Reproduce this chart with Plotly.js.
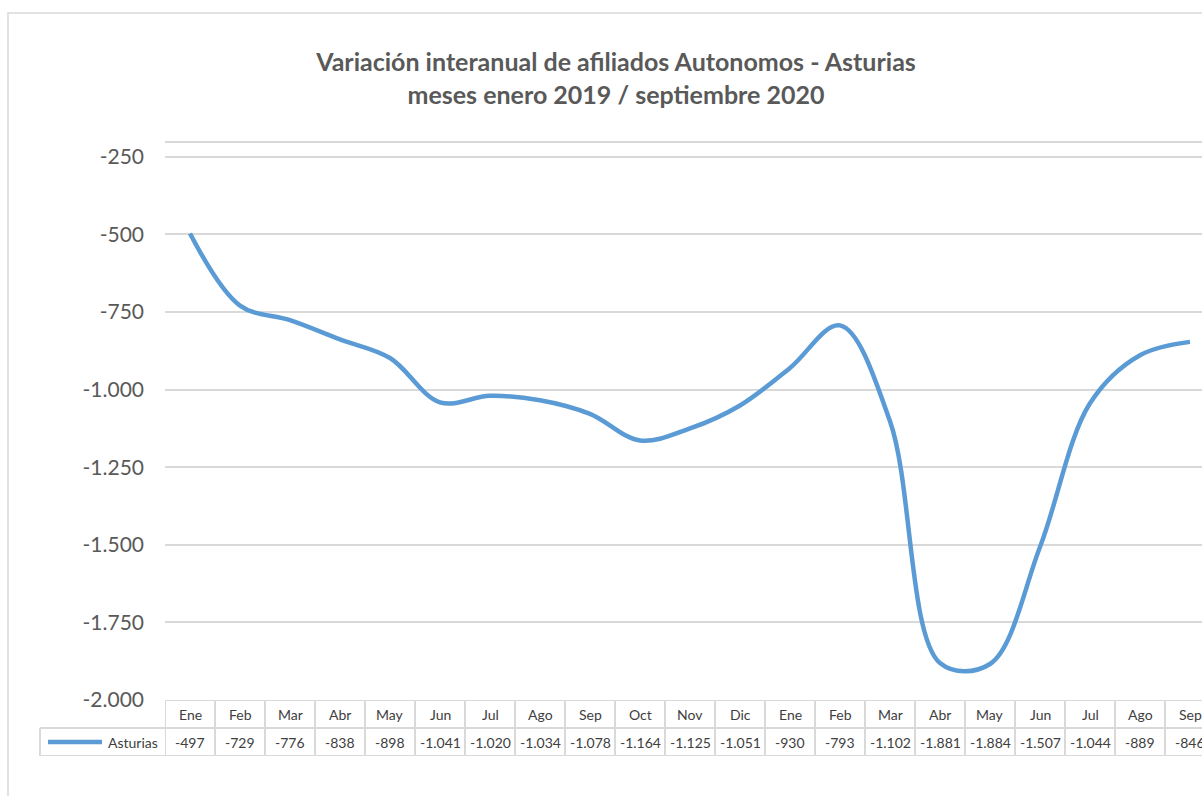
<!DOCTYPE html>
<html>
<head>
<meta charset="utf-8">
<script src="https://cdn.plot.ly/plotly-3.0.1.min.js"></script>
<style>
html,body{margin:0;padding:0;overflow:hidden;background:#fff;}
#chart{width:1240px;height:796px;}
</style>
</head>
<body>
<div id="chart"></div>
<script>
// ---- data ----
const months = ['Ene','Feb','Mar','Abr','May','Jun','Jul','Ago','Sep','Oct','Nov','Dic',
                'Ene','Feb','Mar','Abr','May','Jun','Jul','Ago','Sep'];
const asturias = [-497,-729,-776,-838,-898,-1041,-1020,-1034,-1078,-1164,-1125,-1051,
                  -930,-793,-1102,-1881,-1884,-1507,-1044,-889,-846];
const seriesName = 'Asturias';
const yTicks = [-2000,-1750,-1500,-1250,-1000,-750,-500,-250];
const titleText = 'Variación interanual de afiliados Autonomos - Asturias<br>meses enero 2019 / septiembre 2020';

// ---- helpers ----
function fmt(v){
  const s = Math.abs(v).toString().replace(/\B(?=(\d{3})+(?!\d))/g,'.');
  return (v<0?'-':'') + s;
}
const W = 1240, H = 796;
const L = 165, R = 1215, T = 142, B = 756;
const px = p => (p - L) / (R - L);           // pixel x -> paper x
const py = p => (B - p) / (B - T);           // pixel y -> paper y
const tableFrac = (B - 700) / (B - T);

const xIdx = months.map((_, i) => i);
const grid = '#d9d9d9';
const font = 'Lato, "Open Sans", sans-serif';

const shapes = [];
// chart frame
shapes.push({type:'rect', xref:'paper', yref:'paper', x0:px(8), x1:px(1232), y0:py(810), y1:py(13),
  line:{color:grid, width:1.5}, fillcolor:'rgba(0,0,0,0)', layer:'below'});
// plot top line
shapes.push({type:'line', xref:'paper', yref:'y domain', x0:0, x1:1, y0:1, y1:1, line:{color:grid, width:2}});
// table horizontal lines
shapes.push({type:'line', xref:'paper', yref:'y2', x0:0, x1:1, y0:2, y1:2, line:{color:grid, width:2}});
shapes.push({type:'line', xref:'paper', yref:'y2', x0:px(40), x1:1, y0:1, y1:1, line:{color:grid, width:2}});
shapes.push({type:'line', xref:'paper', yref:'y2', x0:px(40), x1:1, y0:0, y1:0, line:{color:grid, width:2}});
// legend column left border
shapes.push({type:'line', xref:'paper', yref:'y2', x0:px(40), x1:px(40), y0:0, y1:1, line:{color:grid, width:2}});
// column borders
for (let i = 0; i <= months.length; i++) {
  shapes.push({type:'line', xref:'x', yref:'y2', x0:i-0.5, x1:i-0.5, y0:0, y1:2, line:{color:grid, width:2}});
}
// legend key line
shapes.push({type:'line', xref:'paper', yref:'y2', x0:px(48), x1:px(102), y0:0.5, y1:0.5,
  line:{color:'#5B9BD5', width:4.5}});

const annotations = [];
months.forEach((m, i) => {
  annotations.push({xref:'x', yref:'y2', x:i, y:1.5, text:m, showarrow:false,
    font:{family:font, size:14, color:'#404040'}});
  annotations.push({xref:'x', yref:'y2', x:i, y:0.5, text:fmt(asturias[i]), showarrow:false,
    font:{family:font, size:14, color:'#404040'}});
});
annotations.push({xref:'paper', yref:'y2', x:px(160), y:0.5, xanchor:'right', text:seriesName, showarrow:false,
  font:{family:font, size:14, color:'#404040'}});

const trace = {
  x: xIdx, y: asturias, type:'scatter', mode:'lines', name:seriesName,
  line:{color:'#5B9BD5', width:4.5, shape:'spline', smoothing:1},
  xaxis:'x', yaxis:'y', hoverinfo:'skip'
};

const layout = {
  width: W, height: H,
  margin:{l:L, r:W-R, t:T, b:H-B, pad:0},
  paper_bgcolor:'#fff', plot_bgcolor:'#fff',
  showlegend:false,
  title:{text:titleText, xref:'container', x:616/W, xanchor:'center', y:1-71/H, yanchor:'middle',
    font:{family:font, size:25, color:'#595959', weight:'bold'}},
  xaxis:{range:[-0.5, months.length-0.5], showgrid:false, zeroline:false, showticklabels:false,
    ticks:'', showline:false, anchor:'y2', fixedrange:true},
  yaxis:{domain:[tableFrac, 1], range:[-2000, -202], tickvals:yTicks, ticktext:yTicks.map(fmt),
    showgrid:true, gridcolor:grid, gridwidth:2, zeroline:false, showline:false, ticks:'',
    ticklabelstandoff:20, tickfont:{family:font, size:21, color:'#595959'}, fixedrange:true},
  yaxis2:{domain:[0, tableFrac], range:[0, 2], showgrid:false, zeroline:false, showticklabels:false,
    showline:false, ticks:'', fixedrange:true},
  shapes: shapes,
  annotations: annotations
};

Plotly.newPlot('chart', [trace], layout, {displayModeBar:false, staticPlot:true});
</script>
</body>
</html>
